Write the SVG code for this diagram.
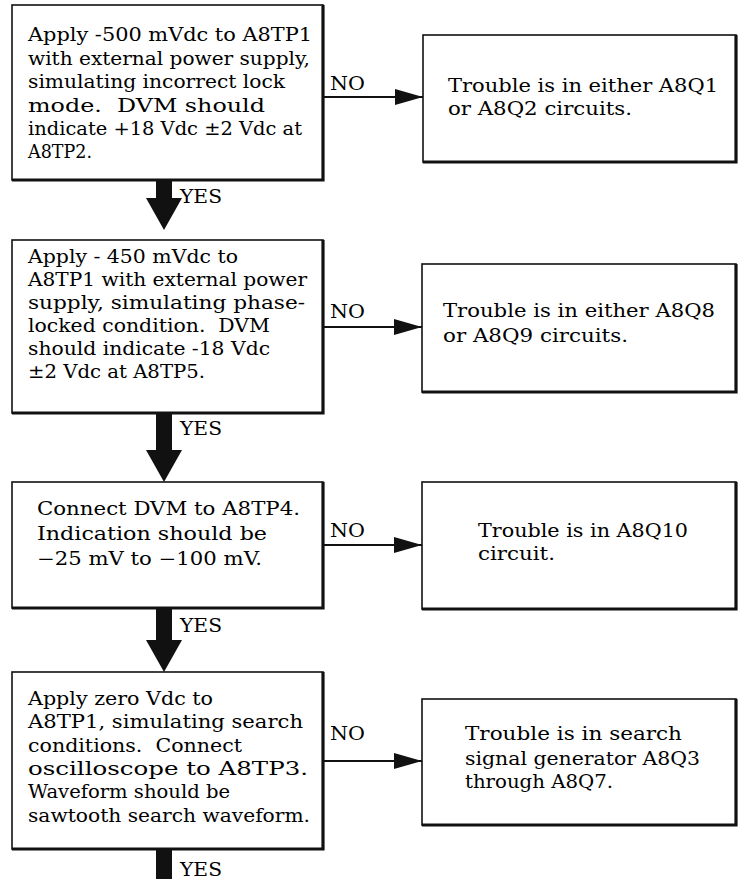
<svg xmlns="http://www.w3.org/2000/svg" width="739" height="879" viewBox="0 0 739 879">
<style>
text{font-family:"DejaVu Serif","Liberation Serif",serif;font-size:18px;fill:#000}
.box{fill:#fff;stroke:#111;stroke-width:1.6}
.edge{fill:none;stroke:#111;stroke-width:3.2}
.thin{stroke:#111;stroke-width:2;fill:none}
.head{fill:#111}
</style>
<defs>
<marker id="ah" markerUnits="userSpaceOnUse" markerWidth="28" markerHeight="16" refX="28" refY="8" orient="auto">
<path d="M0,0 L28,8 L0,16 Z" fill="#111"/>
</marker>
<path id="bigArrow" d="M-8,-34 H8 V-32 H18 L0,0 L-18,-32 H-8 Z"/>
</defs>

<g id="node-step1">
<rect class="box" x="12" y="5" width="311" height="175"/>
<path class="edge" d="M12,180 H323 V5"/>
<text xml:space="preserve" x="28" y="41" textLength="284" lengthAdjust="spacingAndGlyphs">Apply -500 mVdc to A8TP1</text>
<text xml:space="preserve" x="28" y="65" textLength="282" lengthAdjust="spacingAndGlyphs">with external power supply,</text>
<text xml:space="preserve" x="28" y="88" textLength="257" lengthAdjust="spacingAndGlyphs">simulating incorrect lock</text>
<text xml:space="preserve" x="28" y="112" textLength="237" lengthAdjust="spacingAndGlyphs">mode.  DVM should</text>
<text xml:space="preserve" x="28" y="135" textLength="274" lengthAdjust="spacingAndGlyphs">indicate +18 Vdc ±2 Vdc at</text>
<text xml:space="preserve" x="28" y="158" textLength="64" lengthAdjust="spacingAndGlyphs">A8TP2.</text>
</g>

<g id="node-result1">
<rect class="box" x="423" y="35" width="313" height="127"/>
<path class="edge" d="M423,162 H736 V35"/>
<text x="448" y="92" textLength="270" lengthAdjust="spacingAndGlyphs">Trouble is in either A8Q1</text>
<text x="448" y="115" textLength="184" lengthAdjust="spacingAndGlyphs">or A8Q2 circuits.</text>
</g>

<g id="node-step2">
<rect class="box" x="12" y="240" width="311" height="173"/>
<path class="edge" d="M12,413 H323 V240"/>
<text xml:space="preserve" x="28" y="263" textLength="210" lengthAdjust="spacingAndGlyphs">Apply - 450 mVdc to</text>
<text xml:space="preserve" x="28" y="286" textLength="279" lengthAdjust="spacingAndGlyphs">A8TP1 with external power</text>
<text xml:space="preserve" x="28" y="309" textLength="277" lengthAdjust="spacingAndGlyphs">supply, simulating phase-</text>
<text xml:space="preserve" x="28" y="332" textLength="242" lengthAdjust="spacingAndGlyphs">locked condition.  DVM</text>
<text xml:space="preserve" x="28" y="355" textLength="242" lengthAdjust="spacingAndGlyphs">should indicate -18 Vdc</text>
<text xml:space="preserve" x="28" y="378" textLength="177" lengthAdjust="spacingAndGlyphs">±2 Vdc at A8TP5.</text>
</g>

<g id="node-result2">
<rect class="box" x="422" y="264" width="314" height="128"/>
<path class="edge" d="M422,392 H736 V264"/>
<text x="443" y="317" textLength="272" lengthAdjust="spacingAndGlyphs">Trouble is in either A8Q8</text>
<text x="443" y="342" textLength="185" lengthAdjust="spacingAndGlyphs">or A8Q9 circuits.</text>
</g>

<g id="node-step3">
<rect class="box" x="12" y="482" width="311" height="126"/>
<path class="edge" d="M12,608 H323 V482"/>
<text x="37" y="515" textLength="263" lengthAdjust="spacingAndGlyphs">Connect DVM to A8TP4.</text>
<text x="37" y="540" textLength="230" lengthAdjust="spacingAndGlyphs">Indication should be</text>
<text x="37" y="565" textLength="225" lengthAdjust="spacingAndGlyphs">−25 mV to −100 mV.</text>
</g>

<g id="node-result3">
<rect class="box" x="422" y="482" width="314" height="127"/>
<path class="edge" d="M422,609 H736 V482"/>
<text x="478" y="537" textLength="210" lengthAdjust="spacingAndGlyphs">Trouble is in A8Q10</text>
<text x="478" y="560" textLength="77" lengthAdjust="spacingAndGlyphs">circuit.</text>
</g>

<g id="node-step4">
<rect class="box" x="12" y="672" width="311" height="177"/>
<path class="edge" d="M12,849 H323 V672"/>
<text xml:space="preserve" x="28" y="705" textLength="185" lengthAdjust="spacingAndGlyphs">Apply zero Vdc to</text>
<text xml:space="preserve" x="28" y="728" textLength="275" lengthAdjust="spacingAndGlyphs">A8TP1, simulating search</text>
<text xml:space="preserve" x="28" y="752" textLength="214" lengthAdjust="spacingAndGlyphs">conditions.  Connect</text>
<text xml:space="preserve" x="28" y="775" textLength="280" lengthAdjust="spacingAndGlyphs">oscilloscope to A8TP3.</text>
<text xml:space="preserve" x="28" y="798" textLength="202" lengthAdjust="spacingAndGlyphs">Waveform should be</text>
<text xml:space="preserve" x="28" y="822" textLength="282" lengthAdjust="spacingAndGlyphs">sawtooth search waveform.</text>
</g>

<g id="node-result4">
<rect class="box" x="422" y="699" width="314" height="126"/>
<path class="edge" d="M422,825 H736 V699"/>
<text x="465" y="740" textLength="217" lengthAdjust="spacingAndGlyphs">Trouble is in search</text>
<text x="465" y="765" textLength="235" lengthAdjust="spacingAndGlyphs">signal generator A8Q3</text>
<text x="465" y="788" textLength="148" lengthAdjust="spacingAndGlyphs">through A8Q7.</text>
</g>

<g id="connectors">
<line class="thin" x1="324" y1="97" x2="423" y2="97" marker-end="url(#ah)"/>
<line class="thin" x1="324" y1="327" x2="422" y2="327" marker-end="url(#ah)"/>
<line class="thin" x1="324" y1="545" x2="422" y2="545" marker-end="url(#ah)"/>
<line class="thin" x1="324" y1="761" x2="422" y2="761" marker-end="url(#ah)"/>
<text x="330" y="90" textLength="35" lengthAdjust="spacingAndGlyphs">NO</text>
<text x="330" y="318" textLength="35" lengthAdjust="spacingAndGlyphs">NO</text>
<text x="330" y="537" textLength="35" lengthAdjust="spacingAndGlyphs">NO</text>
<text x="330" y="740" textLength="35" lengthAdjust="spacingAndGlyphs">NO</text>

<rect class="head" x="156" y="181" width="16" height="20"/>
<use href="#bigArrow" class="head" transform="translate(164,230)"/>
<rect class="head" x="156" y="414" width="16" height="38"/>
<use href="#bigArrow" class="head" transform="translate(164,482)"/>
<rect class="head" x="156" y="609" width="16" height="33"/>
<use href="#bigArrow" class="head" transform="translate(164,672)"/>
<rect class="head" x="156" y="850" width="16" height="29"/>
<text x="180" y="203" textLength="42" lengthAdjust="spacingAndGlyphs">YES</text>
<text x="180" y="435" textLength="42" lengthAdjust="spacingAndGlyphs">YES</text>
<text x="180" y="632" textLength="42" lengthAdjust="spacingAndGlyphs">YES</text>
<text x="180" y="876" textLength="42" lengthAdjust="spacingAndGlyphs">YES</text>
</g>
</svg>
